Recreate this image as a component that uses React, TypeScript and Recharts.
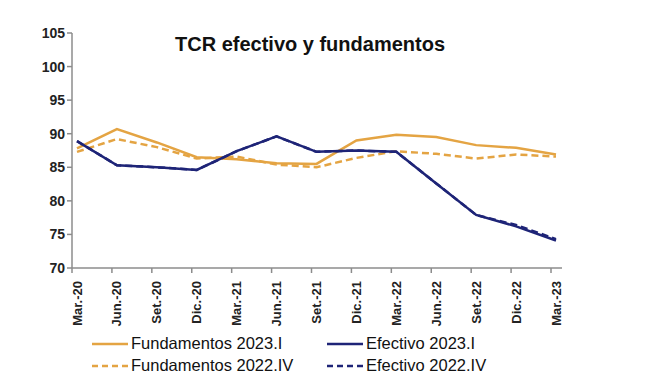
import React from 'react';
import { LineChart, Line, XAxis, YAxis } from 'recharts';

const periods = [
  'Mar.-20', 'Jun.-20', 'Set.-20', 'Dic.-20', 'Mar.-21', 'Jun.-21', 'Set.-21',
  'Dic.-21', 'Mar.-22', 'Jun.-22', 'Set.-22', 'Dic.-22', 'Mar.-23',
];
const fund2023I = [87.8, 90.7, 88.7, 86.5, 86.2, 85.6, 85.5, 89.0, 89.85, 89.5, 88.3, 87.9, 86.9];
const fund2022IV = [87.3, 89.2, 88.0, 86.3, 86.6, 85.4, 85.0, 86.4, 87.4, 87.0, 86.3, 86.9, 86.6];
const efec2023I = [88.9, 85.3, 85.0, 84.6, 87.4, 89.6, 87.3, 87.5, 87.3, 82.6, 77.9, 76.2, 74.1];
const efec2022IV = [88.9, 85.3, 85.0, 84.6, 87.4, 89.6, 87.3, 87.5, 87.3, 82.6, 77.9, 76.4, 74.3];
const yTicks = [70, 75, 80, 85, 90, 95, 100, 105];

const ORANGE = '#E4A443';
const NAVY = '#1E2477';
const AXIS = '#8c8c8c';
const FONT = '"Liberation Sans", Arial, sans-serif';

const data = periods.map((p, i) => ({
  name: p,
  f23: fund2023I[i],
  f22: fund2022IV[i],
  e23: efec2023I[i],
  e22: efec2022IV[i],
}));

const legendItems = [
  { label: 'Fundamentos 2023.I', color: ORANGE, dash: undefined },
  { label: 'Efectivo 2023.I', color: NAVY, dash: undefined },
  { label: 'Fundamentos 2022.IV', color: ORANGE, dash: '6 4' },
  { label: 'Efectivo 2022.IV', color: NAVY, dash: '6 4' },
];

const XTick = (props: any) => {
  const { x, y, payload } = props;
  return (
    <g>
      <line x1={x - 5} x2={x - 5} y1={y - 8} y2={y - 3} stroke={AXIS} strokeWidth={1.5} />
      <text
        x={x}
        y={y + 5}
        transform={`rotate(-90, ${x}, ${y + 5})`}
        textAnchor="end"
        dominantBaseline="central"
        fontFamily={FONT}
        fontWeight="bold"
        fontSize={13}
        fill="#222"
      >
        {payload.value}
      </text>
    </g>
  );
};

export default function App() {
  return (
    <div style={{ position: 'absolute', left: 0, top: 0, width: 667, height: 384, background: '#fff' }}>
      <div
        style={{
          position: 'absolute', left: 0, width: 620, top: 33, textAlign: 'center',
          fontFamily: FONT, fontWeight: 'bold', fontSize: 20, color: '#111', zIndex: 2,
        }}
      >
        TCR efectivo y fundamentos
      </div>
      <LineChart
        width={667}
        height={384}
        data={data}
        margin={{ top: 33, right: 105, left: 0, bottom: 54 }}
      >
        <XAxis
          dataKey="name"
          interval={0}
          padding={{ left: 5, right: 6 }}
          tickLine={false}
          axisLine={{ stroke: AXIS, strokeWidth: 1.5 }}
          tick={<XTick />}
          height={62}
        />
        <YAxis
          domain={[70, 105]}
          ticks={yTicks}
          interval={0}
          width={72}
          axisLine={{ stroke: AXIS, strokeWidth: 1.5 }}
          tickLine={{ stroke: AXIS, strokeWidth: 1.5 }}
          tickSize={5}
          tick={{ fontFamily: FONT, fontWeight: 'bold', fontSize: 14, fill: '#222' }}
        />
        <Line dataKey="f22" stroke={ORANGE} strokeWidth={2.5} strokeDasharray="7 4" dot={false} isAnimationActive={false} />
        <Line dataKey="f23" stroke={ORANGE} strokeWidth={2.5} dot={false} isAnimationActive={false} />
        <Line dataKey="e22" stroke={NAVY} strokeWidth={2.5} strokeDasharray="7 4" dot={false} isAnimationActive={false} />
        <Line dataKey="e23" stroke={NAVY} strokeWidth={2.5} dot={false} isAnimationActive={false} />
      </LineChart>
      <div
        style={{
          position: 'absolute', left: 92, top: 333, width: 480,
          display: 'grid', gridTemplateColumns: '235px 235px', rowGap: 1,
          fontFamily: FONT, fontSize: 16.5, color: '#111',
        }}
      >
        {legendItems.map((it) => (
          <div key={it.label} style={{ display: 'flex', alignItems: 'center', height: 21 }}>
            <svg width={38} height={6} style={{ marginRight: 1 }}>
              <line x1={0} x2={36} y1={3} y2={3} stroke={it.color} strokeWidth={2.5} strokeDasharray={it.dash} />
            </svg>
            <span>{it.label}</span>
          </div>
        ))}
      </div>
    </div>
  );
}
